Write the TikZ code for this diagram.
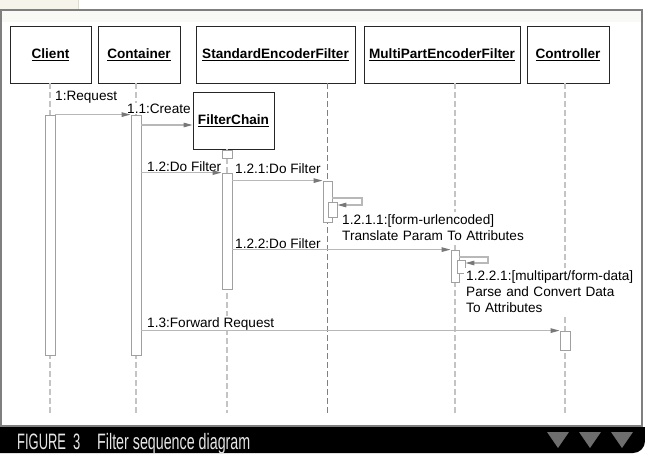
\documentclass[tikz,border=0pt]{standalone}
\usepackage{fontspec}
\setmainfont{Liberation Sans}
\newfontfamily\capfont[FakeStretch=0.58]{Liberation Sans}
\newfontfamily\capfontb[FakeStretch=0.64]{Liberation Sans}
\usetikzlibrary{arrows.meta,fit}
\definecolor{lifegray}{HTML}{C4C4C4}
\definecolor{lifedark}{HTML}{808080}
\definecolor{msggray}{HTML}{B8B8B8}
\definecolor{tipgray}{HTML}{787878}
\definecolor{actgray}{HTML}{A0A0A0}
\definecolor{framegray}{HTML}{7F7F7F}
\definecolor{beige}{HTML}{F6F4EA}
\definecolor{topband}{HTML}{F9F9F6}
\definecolor{trigray}{HTML}{6E6E6E}
\definecolor{captext}{HTML}{E6E6E6}
\begin{document}
\begin{tikzpicture}[x=1pt,y=-1pt,
  font=\fontsize{13.6pt}{16pt}\selectfont,
  hdr/.style={draw=black!85, line width=0.9pt, fill=white, minimum height=57pt, inner sep=0pt, font=\fontsize{13.6pt}{16pt}\selectfont\bfseries},
  act/.style={draw=actgray, line width=0.8pt, fill=white, inner sep=0pt},
  life/.style={draw=lifegray, line width=1.4pt, dash pattern=on 6pt off 3pt},
  lifed/.style={draw=lifedark, line width=1.2pt, dash pattern=on 6pt off 3pt},
  msg/.style={draw=msggray, line width=1.2pt, -{Triangle[length=9pt,width=4.5pt,color=tipgray]}},
  lbl/.style={fill=white, inner sep=1pt},
  mlbl/.style={fill=white, inner xsep=2pt, inner ysep=2pt, align=left, font=\fontsize{13.6pt}{16.3pt}\selectfont},
  captxt/.style={text=captext, inner sep=0pt, font=\capfont\fontsize{22.3pt}{24pt}\selectfont},
  captxtb/.style={text=captext, inner sep=0pt, font=\capfontb\fontsize{22.3pt}{24pt}\selectfont},
  tri/.style={fill=trigray}
]
\useasboundingbox (0,0) rectangle (645,453);
% background
\fill[white] (0,0) rectangle (645,453);
\fill[beige] (0,0) rectangle (78,10);
\draw[beige!90!black, line width=0.6pt] (78,0) -- (78,10);
% frame
\fill[topband] (2,11) rectangle (641,22);
\draw[framegray, line width=2pt] (1,10) rectangle (642,426);
% caption bar
\fill[black] (0,427) -- (645,427) -- (645,441) to[out=-90,in=0] (633,453) -- (0,453) -- cycle;
\node[captxt, anchor=base west] (figw) at (17,449) {FIGURE};
\node[captxt, anchor=base west] (fign) at (73,449) {3};
\node[captxtb, anchor=base west] (figt) at (97,449) {Filter sequence diagram};
\fill[tri] (547,432) -- (569,432) -- (558,448) -- cycle;
\fill[tri] (579,432) -- (601,432) -- (590,448) -- cycle;
\fill[tri] (611,432) -- (633,432) -- (622,448) -- cycle;

% header boxes
\node[hdr, minimum width=81pt] (client) at (50.5,54.5) {\underline{Client}};
\node[hdr, minimum width=82pt] (cont) at (139,54.5) {\underline{Container}};
\node[hdr, minimum width=159pt] (sef) at (275.5,54.5) {\underline{StandardEncoderFilter}};
\node[hdr, minimum width=156pt] (mpef) at (442,54.5) {\underline{MultiPartEncoderFilter}};
\node[hdr, minimum width=82pt] (ctrl) at (568,54.5) {\underline{Controller}};
\node[hdr, minimum width=81pt] (fc) at (233.5,120.5) {\underline{FilterChain}};

% lifeline x positions
\coordinate (bot) at (0,413);
\coordinate (xc) at (50,0);
\coordinate (xk) at (136,0);
\coordinate (xf) at (227,0);
\coordinate (xs) at (327.5,0);
\coordinate (xm) at (455,0);
\coordinate (xt) at (565,0);

% lifelines
\draw[life] (client.south -| xc) -- (xc |- bot);
\draw[life] (cont.south -| xk) -- (xk |- bot);
\draw[life] (fc.south -| xf) -- (xf |- bot);
\draw[lifed] (sef.south -| xs) -- (xs |- bot);
\draw[life] (mpef.south -| xm) -- (xm |- bot);
\draw[life] (ctrl.south -| xt) -- (xt |- bot);

% activations
\node[act, fit={(45,115) (55,355)}] (ca) {};
\node[act, fit={(131,115) (141,355)}] (ka) {};
\node[act, fit={(222,150) (232,158)}] (fs) {};
\node[act, fit={(222,173) (232,289)}] (fa) {};
\node[act, fit={(323,181) (332,222)}] (sa) {};
\node[act, fit={(328,202) (337,217)}] (sn) {};
\node[act, fit={(451,250) (459,282)}] (ma) {};
\node[act, fit={(457,260) (465,273)}] (mn) {};
\node[act, fit={(560,331) (570,350)}] (ta) {};

% labels
\node[lbl, anchor=base west] (l1) at (54,100) {1:Request};
\node[lbl, anchor=base west] (l11) at (126,113) {1.1:Create};
\node[lbl, anchor=base west] (l12) at (146,171) {1.2:Do Filter};
\node[lbl, anchor=base west] (l121) at (234,173) {1.2.1:Do Filter};
\node[lbl, anchor=base west] (l122) at (234,248) {1.2.2:Do Filter};
\node[lbl, anchor=base west] (l13) at (146,327) {1.3:Forward Request};
\node[mlbl, anchor=north west, text width=218pt] (l1211) at (340,212) {1.2.1.1:[form-urlencoded]\\Translate Param To Attributes};
\node[mlbl, anchor=north west, text width=172pt] (l1221) at (464,268) {1.2.2.1:[multipart/form-data]\\Parse and Convert Data\\To Attributes};

% messages
\coordinate (ycr) at (0,125);
\coordinate (ys1) at (0,198);
\coordinate (ys2) at (0,205);
\coordinate (ym1) at (0,257);
\coordinate (ym2) at (0,263);
\draw[msg] (ca.north east) -- (ka.north west);
\draw[msg] (ka.east |- ycr) -- (fc.west |- ycr);
\draw[msg] (ka.east |- fa.north) -- (fa.north west);
\draw[msg] (fa.east |- sa.north) -- (sa.north west);
\draw[msg] (sa.east |- ys1) -- (362,198) -- (362,205) -- (sn.east |- ys2);
\draw[msg] (fa.east |- ma.north) -- (ma.north west);
\draw[msg] (ma.east |- ym1) -- (488,257) -- (488,263) -- (mn.east |- ym2);
\draw[msg] (ka.east |- ta.north) -- (ta.north west);
\end{tikzpicture}
\end{document}
